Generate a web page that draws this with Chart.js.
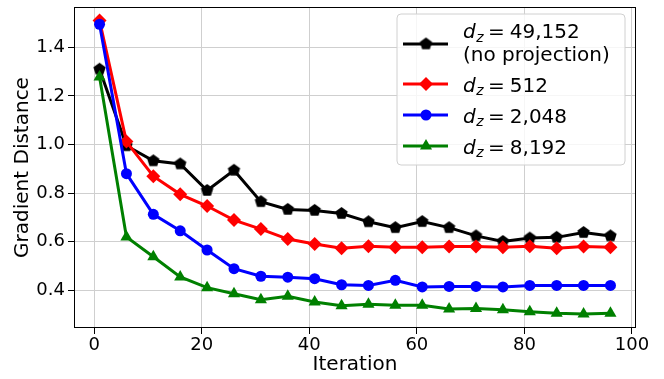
<!DOCTYPE html>
<html>
<head>
    <title>Gradient Distance vs Iteration</title>
    <script src="https://cdn.jsdelivr.net/npm/chart.js"></script>
    <style>
        html, body { margin: 0; padding: 0; background: #fff; }
        #wrap { width: 664px; height: 379px; }
    </style>
</head>
<body>
    <div id="wrap"><canvas id="gradChart" width="664" height="379"></canvas></div>

    <script>
        // data
        const iterations = [1, 6, 11, 16, 21, 26, 31, 36, 41, 46, 51, 56, 61, 66, 71, 76, 81, 86, 91, 96];
        const dz49152 = [1.31, 0.995, 0.933, 0.92, 0.811, 0.894, 0.765, 0.733, 0.729, 0.716, 0.682, 0.658, 0.683, 0.658, 0.624, 0.601, 0.615, 0.618, 0.638, 0.624];
        const dz512 = [1.51, 1.012, 0.87, 0.795, 0.747, 0.689, 0.652, 0.611, 0.591, 0.573, 0.581, 0.577, 0.577, 0.58, 0.58, 0.577, 0.581, 0.573, 0.58, 0.577];
        const dz2048 = [1.495, 0.88, 0.713, 0.645, 0.566, 0.489, 0.458, 0.454, 0.448, 0.423, 0.42, 0.441, 0.414, 0.416, 0.416, 0.414, 0.42, 0.42, 0.42, 0.42];
        const dz8192 = [1.278, 0.62, 0.538, 0.455, 0.411, 0.386, 0.361, 0.376, 0.352, 0.337, 0.343, 0.339, 0.339, 0.323, 0.325, 0.32, 0.312, 0.306, 0.303, 0.306];
        const legendNums = ['49,152', '512', '2,048', '8,192'];
        const xTicks = [0, 20, 40, 60, 80, 100];
        const yTicks = [0.4, 0.6, 0.8, 1.0, 1.2, 1.4];

        const FONT = '"DejaVu Sans", sans-serif';

        // pentagon marker (no built-in style for it)
        function pentagon(r, color) {
            const c = document.createElement('canvas');
            c.width = 2 * r + 2; c.height = 2 * r + 2;
            const g = c.getContext('2d');
            g.fillStyle = color;
            g.beginPath();
            for (let i = 0; i < 5; i++) {
                const a = -Math.PI / 2 + i * 2 * Math.PI / 5;
                const px = c.width / 2 + r * Math.cos(a), py = c.height / 2 + r * Math.sin(a);
                if (i === 0) g.moveTo(px, py); else g.lineTo(px, py);
            }
            g.closePath();
            g.fill();
            return c;
        }
        const penta = pentagon(6.5, '#000');

        const pts = (ys) => ys.map((y, i) => ({ x: iterations[i], y: y }));

        const series = [
            { data: dz49152, color: '#000000', style: penta, radius: 6.5, order: 3 },
            { data: dz512, color: '#ff0000', style: 'rectRot', radius: 7, order: 2 },
            { data: dz2048, color: '#0000ff', style: 'circle', radius: 5.5, order: 1 },
            { data: dz8192, color: '#008000', style: 'triangle', radius: 7, order: 0 }
        ];

        // frame on all four sides + legend box
        const framePlugin = {
            id: 'frameLegend',
            afterDraw(chart) {
                const ctx = chart.ctx;
                const a = chart.chartArea;
                ctx.save();
                ctx.strokeStyle = '#000';
                ctx.lineWidth = 1;
                ctx.strokeRect(Math.round(a.left) + 0.5, Math.round(a.top) + 0.5,
                    Math.round(a.right - a.left) - 1, Math.round(a.bottom - a.top) - 1);

                // legend
                const bx = 397, by = 14, bw = 228, bh = 151, r = 4;
                ctx.beginPath();
                ctx.moveTo(bx + r, by);
                ctx.arcTo(bx + bw, by, bx + bw, by + bh, r);
                ctx.arcTo(bx + bw, by + bh, bx, by + bh, r);
                ctx.arcTo(bx, by + bh, bx, by, r);
                ctx.arcTo(bx, by, bx + bw, by, r);
                ctx.closePath();
                ctx.fillStyle = 'rgba(255,255,255,0.8)';
                ctx.fill();
                ctx.strokeStyle = '#d0d0d0';
                ctx.stroke();

                const rows = [44, 84, 115, 146];
                const textBase = [38, 91.5, 122.5, 153.5];
                series.forEach((s, i) => {
                    const y = rows[i];
                    ctx.strokeStyle = s.color;
                    ctx.lineWidth = 3;
                    ctx.beginPath();
                    ctx.moveTo(403, y);
                    ctx.lineTo(448, y);
                    ctx.stroke();
                    ctx.fillStyle = s.color;
                    Chart.helpers.drawPoint(ctx, { pointStyle: s.style, radius: s.radius, rotation: 0, borderWidth: 0 }, 426, y);

                    // d_z = N
                    let x = 463;
                    const base = textBase[i];
                    ctx.fillStyle = '#000';
                    ctx.textBaseline = 'alphabetic';
                    ctx.textAlign = 'left';
                    ctx.font = 'italic 20px ' + FONT;
                    ctx.fillText('d', x, base);
                    x += ctx.measureText('d').width;
                    ctx.font = 'italic 14px ' + FONT;
                    ctx.fillText('z', x + 0.5, base + 3.5);
                    x += ctx.measureText('z').width + 5;
                    ctx.font = '20px ' + FONT;
                    ctx.fillText('=', x, base);
                    x += ctx.measureText('=').width + 5;
                    ctx.fillText(legendNums[i], x, base);
                    if (i === 0) ctx.fillText('(no projection)', 463, base + 22.5);
                });
                ctx.restore();
            }
        };

        new Chart(document.getElementById('gradChart').getContext('2d'), {
            type: 'line',
            data: {
                datasets: series.map(s => ({
                    data: pts(s.data),
                    borderColor: s.color,
                    backgroundColor: s.color,
                    borderWidth: 3,
                    pointStyle: s.style,
                    pointRadius: s.radius,
                    pointBorderWidth: 0,
                    pointBackgroundColor: s.color,
                    fill: false,
                    tension: 0,
                    clip: false,
                    order: s.order
                }))
            },
            options: {
                responsive: false,
                animation: false,
                layout: { padding: { left: 0, right: 28, top: 1, bottom: 0 } },
                plugins: { legend: { display: false }, tooltip: { enabled: false } },
                scales: {
                    x: {
                        type: 'linear',
                        min: -3.75,
                        max: 100.75,
                        afterBuildTicks: (sc) => { sc.ticks = xTicks.map(v => ({ value: v })); },
                        afterFit: (sc) => { sc.height = 51; sc.paddingLeft = 0; sc.paddingRight = 0; },
                        grid: { color: '#cfcfcf', lineWidth: 1, tickColor: '#000', tickLength: 6 },
                        border: { display: false },
                        ticks: { color: '#000', font: { family: FONT, size: 18 }, padding: 1, maxRotation: 0 },
                        title: { display: true, text: 'Iteration', color: '#000', font: { family: FONT, size: 20 }, padding: { top: 0, bottom: 2 } }
                    },
                    y: {
                        min: 0.245,
                        max: 1.566,
                        afterBuildTicks: (sc) => { sc.ticks = yTicks.map(v => ({ value: v })); },
                        afterFit: (sc) => { sc.width = 74; sc.paddingTop = 0; sc.paddingBottom = 0; },
                        grid: { color: '#cfcfcf', lineWidth: 1, tickColor: '#000', tickLength: 6 },
                        border: { display: false },
                        ticks: { color: '#000', font: { family: FONT, size: 18 }, padding: 3, callback: (v) => v.toFixed(1) },
                        title: { display: true, text: 'Gradient Distance', color: '#000', font: { family: FONT, size: 20 }, padding: { top: 11, bottom: 0 } }
                    }
                }
            },
            plugins: [framePlugin]
        });
    </script>
</body>
</html>
